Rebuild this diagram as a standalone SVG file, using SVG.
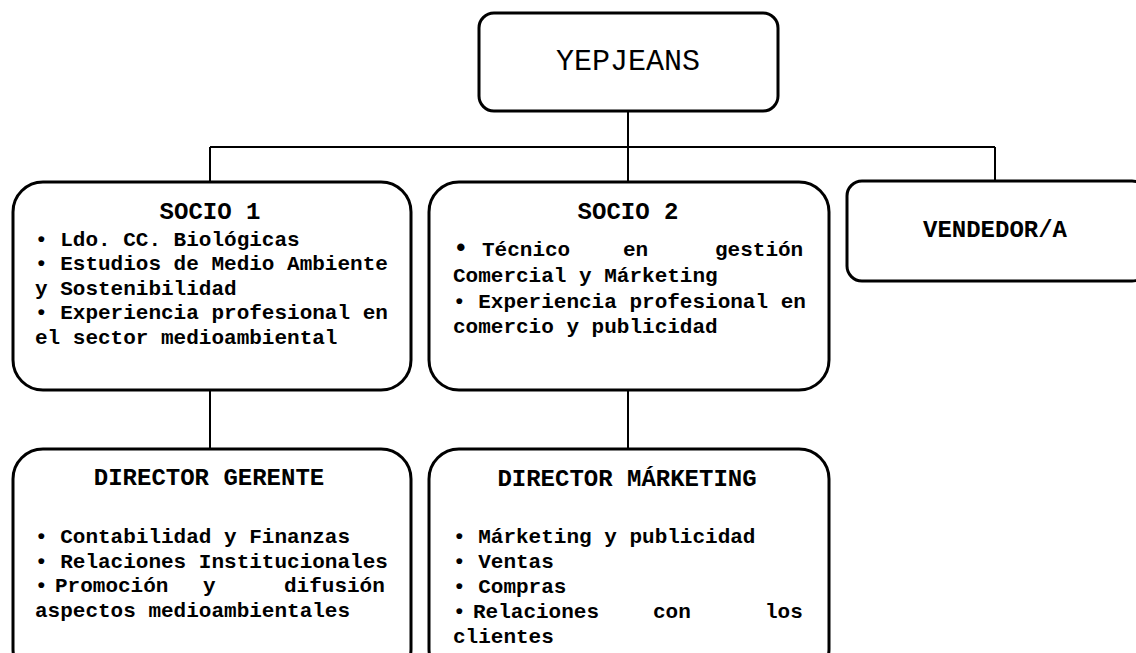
<svg xmlns="http://www.w3.org/2000/svg" width="1136" height="653" viewBox="0 0 1136 653">
<style>
.box{fill:#fff;stroke:#000;stroke-width:3}
.con{fill:none;stroke:#000;stroke-width:2}
text{font-family:"Liberation Mono","Courier New",monospace;fill:#000;font-weight:bold}
.t{font-size:24px;text-anchor:middle}
.b{font-size:21px}
</style>
<rect width="1136" height="653" fill="#fff"/>
<g id="connectors">
<line class="con" x1="628" y1="111" x2="628" y2="182"/>
<line class="con" x1="210" y1="147" x2="995" y2="147"/>
<line class="con" x1="210" y1="147" x2="210" y2="182"/>
<line class="con" x1="995" y1="147" x2="995" y2="181"/>
<line class="con" x1="210" y1="390" x2="210" y2="449"/>
<line class="con" x1="628" y1="390" x2="628" y2="449"/>
</g>
<g id="yepjeans">
<rect class="box" x="479" y="13" width="299" height="98" rx="15"/>
<text x="628" y="70" style="font-size:30px;text-anchor:middle;font-weight:normal">YEPJEANS</text>
</g>
<g id="socio1">
<rect class="box" x="13" y="182" width="398" height="208" rx="30"/>
<text class="t" x="210" y="219">SOCIO 1</text>
<text class="b" x="35" y="246">• Ldo. CC. Biológicas</text>
<text class="b" x="35" y="270">• Estudios de Medio Ambiente</text>
<text class="b" x="35" y="295">y Sostenibilidad</text>
<text class="b" x="35" y="319">• Experiencia profesional en</text>
<text class="b" x="35" y="344">el sector medioambiental</text>
</g>
<g id="socio2">
<rect class="box" x="429" y="182" width="400" height="208" rx="30"/>
<text class="t" x="628" y="219">SOCIO 2</text>
<text class="b" x="453" y="256"><tspan style="font-size:26px">•</tspan><tspan x="482">Técnico</tspan><tspan x="623">en</tspan><tspan x="715">gestión</tspan></text>
<text class="b" x="453" y="282">Comercial y Márketing</text>
<text class="b" x="453" y="308">• Experiencia profesional en</text>
<text class="b" x="453" y="333">comercio y publicidad</text>
</g>
<g id="vendedor">
<rect class="box" x="847" y="181" width="300" height="100" rx="15"/>
<text class="t" x="995" y="237">VENDEDOR/A</text>
</g>
<g id="director-gerente">
<rect class="box" x="13" y="449" width="398" height="230" rx="30"/>
<text class="t" x="209" y="485">DIRECTOR GERENTE</text>
<text class="b" x="35" y="543">• Contabilidad y Finanzas</text>
<text class="b" x="35" y="568">• Relaciones Institucionales</text>
<text class="b" x="35" y="592">•<tspan x="55">Promoción</tspan><tspan x="203">y</tspan><tspan x="284">difusión</tspan></text>
<text class="b" x="35" y="617">aspectos medioambientales</text>
</g>
<g id="director-marketing">
<rect class="box" x="429" y="449" width="400" height="230" rx="30"/>
<text class="t" x="627" y="486">DIRECTOR MÁRKETING</text>
<text class="b" x="453" y="543">• Márketing y publicidad</text>
<text class="b" x="453" y="568">• Ventas</text>
<text class="b" x="453" y="593">• Compras</text>
<text class="b" x="453" y="618">•<tspan x="473">Relaciones</tspan><tspan x="653">con</tspan><tspan x="765">los</tspan></text>
<text class="b" x="453" y="643">clientes</text>
</g>
</svg>
